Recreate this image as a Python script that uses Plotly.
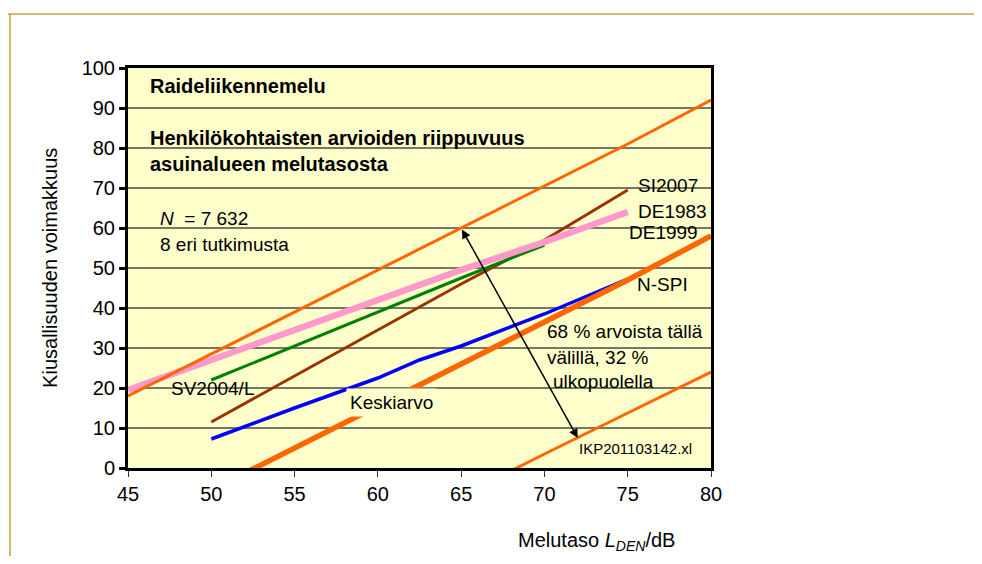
import plotly.graph_objects as go

# ---------------- data ----------------
x_db = [45, 50, 55, 60, 65, 70, 75, 80]
upper_sd = [18, 28.5, 39, 49.5, 60, 70.5, 81, 92]
keskiarvo = [-16, -5.5, 5, 15.5, 26, 36.5, 47, 58]
lower_sd = [-48, -37.5, -27.5, -17, -7, 3.5, 13.75, 24]

si2007_x = [50, 55, 60, 65, 70, 75]
si2007_y = [11.5, 23, 34.5, 46, 57, 69.5]

de1983_x = [45, 50, 55, 60, 65, 70, 75]
de1983_y = [19.5, 27, 34.5, 42, 49.5, 56.5, 64]

de1999_x = [50, 55, 60, 65, 70]
de1999_y = [22, 30.5, 39, 47.5, 55.75]

nspi_x = [50, 55, 60, 62.5, 65, 70, 75]
nspi_y = [7.25, 15, 22.5, 27, 30.5, 38.5, 47.25]

x_ticks = [45, 50, 55, 60, 65, 70, 75, 80]
y_ticks = [0, 10, 20, 30, 40, 50, 60, 70, 80, 90, 100]

FONT = "Liberation Sans, Arial, sans-serif"
ORANGE = "#FF6600"

fig = go.Figure()

fig.add_trace(go.Scatter(x=si2007_x, y=si2007_y, mode="lines",
                         line=dict(color="#993300", width=3), name="SI2007"))
fig.add_trace(go.Scatter(x=de1999_x, y=de1999_y, mode="lines",
                         line=dict(color="#008000", width=3), name="DE1999"))
fig.add_trace(go.Scatter(x=nspi_x, y=nspi_y, mode="lines",
                         line=dict(color="#0000FF", width=3.5), name="N-SPI"))
fig.add_trace(go.Scatter(x=de1983_x, y=de1983_y, mode="lines",
                         line=dict(color="#FF99CC", width=6.5), name="DE1983"))
fig.add_trace(go.Scatter(x=x_db, y=upper_sd, mode="lines",
                         line=dict(color=ORANGE, width=3), name="+sd"))
fig.add_trace(go.Scatter(x=x_db, y=keskiarvo, mode="lines",
                         line=dict(color=ORANGE, width=5.5), name="Keskiarvo"))
fig.add_trace(go.Scatter(x=x_db, y=lower_sd, mode="lines",
                         line=dict(color=ORANGE, width=3), name="-sd"))

ann = []


def txt(x, y, text, size=19, **kw):
    d = dict(x=x, y=y, xref="x", yref="y", text=text, showarrow=False,
             xanchor="left", yanchor="middle",
             font=dict(family=FONT, size=size, color="black"))
    d.update(kw)
    ann.append(d)


txt(46.2, 95.5, "<b>Raideliikennemelu</b>", size=20)
txt(46.2, 82.5, "<b>Henkilökohtaisten arvioiden riippuvuus</b>", size=20)
txt(46.2, 76, "<b>asuinalueen melutasosta</b>", size=20)
txt(46.8, 62.5, "<i>N</i>  = 7 632")
txt(46.8, 56, "8 eri tutkimusta")
txt(75.5, 70.75, "SI2007")
txt(75.5, 64.25, "DE1983")
txt(74.95, 59, "DE1999")
txt(75.45, 46, "N-SPI")
txt(47.45, 20, "SV2004/L")
txt(58.1, 16.4, "Keskiarvo", bgcolor="#FFFFCC", borderpad=3)
txt(70.05, 34.25, "68 % arvoista tällä")
txt(70.05, 27.75, "välillä, 32 %")
txt(70.4, 21.75, "ulkopuolella")
txt(71.95, 5, "IKP201103142.xl", size=15)

# double-headed arrow
ann.append(dict(x=72, y=7.5, ax=65, ay=60, xref="x", yref="y", axref="x", ayref="y",
                text="", showarrow=True, arrowhead=2, startarrowhead=2,
                arrowside="end+start", arrowsize=1.2, arrowwidth=1.5, arrowcolor="black"))

# axis titles
ann.append(dict(x=0.804, y=-0.1825, xref="paper", yref="paper", showarrow=False,
                text="Melutaso <i>L</i><sub><i>DEN</i></sub>/dB",
                xanchor="center", yanchor="middle",
                font=dict(family=FONT, size=20, color="black")))
ann.append(dict(x=-0.134, y=0.5, xref="paper", yref="paper", showarrow=False,
                text="Kiusallisuuden voimakkuus", textangle=-90,
                xanchor="center", yanchor="middle",
                font=dict(family=FONT, size=20, color="black")))

shapes = [
    dict(type="line", xref="paper", yref="paper", x0=-0.211, x1=1.5, y0=1.135, y1=1.135,
         line=dict(color="#C8A44A", width=1.5)),
    dict(type="line", xref="paper", yref="paper", x0=-0.2024, x1=-0.2024, y0=1.135, y1=-0.3,
         line=dict(color="#C8A030", width=1.5)),
]

fig.update_layout(
    width=966, height=548,
    margin=dict(l=120, r=263, t=60, b=88),
    paper_bgcolor="white",
    plot_bgcolor="#FFFFCC",
    showlegend=False,
    annotations=ann,
    shapes=shapes,
    font=dict(family=FONT, size=20, color="black"),
)
fig.update_xaxes(range=[45, 80], tickvals=x_ticks, ticks="outside", ticklen=6,
                 tickwidth=1, tickcolor="#333333", showgrid=False, zeroline=False,
                 showline=True, linecolor="black", linewidth=3, mirror=True,
                 tickfont=dict(family=FONT, size=20, color="black"))
fig.update_yaxes(range=[0, 100], tickvals=y_ticks, ticks="outside", ticklen=6,
                 tickwidth=3, tickcolor="black", showgrid=True, gridcolor="#777766",
                 gridwidth=1.5, zeroline=False,
                 showline=True, linecolor="black", linewidth=3, mirror=True,
                 tickfont=dict(family=FONT, size=20, color="black"))

fig.write_html("out.html")
